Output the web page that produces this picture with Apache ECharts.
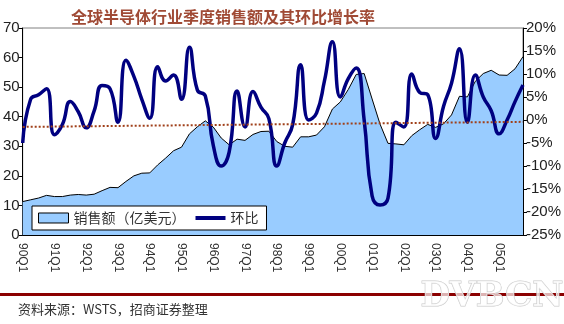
<!DOCTYPE html>
<html>
<head>
<meta charset="utf-8">
<script src="https://cdn.jsdelivr.net/npm/echarts@6/dist/echarts.min.js"></script>
<style>
  html, body { margin: 0; padding: 0; background: #fff; }
  #chart { width: 564px; height: 324px; }
</style>
</head>
<body>
<div id="chart"></div>
<script>
// Quarter labels, 1990 Q1 through 2005 Q4
const quarters = [
  '90Q1','90Q2','90Q3','90Q4','91Q1','91Q2','91Q3','91Q4',
  '92Q1','92Q2','92Q3','92Q4','93Q1','93Q2','93Q3','93Q4',
  '94Q1','94Q2','94Q3','94Q4','95Q1','95Q2','95Q3','95Q4',
  '96Q1','96Q2','96Q3','96Q4','97Q1','97Q2','97Q3','97Q4',
  '98Q1','98Q2','98Q3','98Q4','99Q1','99Q2','99Q3','99Q4',
  '00Q1','00Q2','00Q3','00Q4','01Q1','01Q2','01Q3','01Q4',
  '02Q1','02Q2','02Q3','02Q4','03Q1','03Q2','03Q3','03Q4',
  '04Q1','04Q2','04Q3','04Q4','05Q1','05Q2','05Q3','05Q4'
];

// Quarterly sales (left axis)
const sales = [
  11.3, 11.9, 12.5, 13.4, 13.0, 13.0, 13.5, 13.7,
  13.5, 13.8, 15.0, 16.1, 16.0, 18.1, 20.0, 20.9,
  21.0, 23.7, 26.0, 28.5, 29.7, 34.2, 36.6, 38.6,
  36.5, 32.8, 30.5, 32.4, 32.0, 34.0, 35.0, 35.1,
  31.6, 30.0, 29.7, 33.2, 33.2, 33.8, 36.6, 42.6,
  45.0, 49.2, 54.3, 54.6, 46.0, 37.5, 31.0, 30.8,
  30.5, 33.6, 35.6, 37.4, 36.4, 37.6, 40.6, 46.9,
  46.7, 52.0, 54.6, 55.7, 54.1, 54.0, 56.2, 60.3
];

// Quarter-on-quarter growth, % (right axis)
const qoq = [
  -5.0, 4.5, 5.5, 6.8, -3.2, -1.0, 4.0, 1.8,
  -1.7, 2.0, 7.5, 6.8, -0.5, 13.0, 9.5, 4.5,
  0.4, 11.6, 8.5, 9.8, 4.5, 15.8, 6.5, 5.2,
  -5.5, -10.0, -7.0, 6.3, -1.5, 6.2, 2.8, 0.3,
  -10.0, -5.0, -1.0, 12.0, 0.0, 1.5, 8.5, 17.0,
  5.0, 9.0, 11.3, 0.0, -16.5, -18.5, -17.0, -0.5,
  -1.5, 10.0, 6.0, 5.5, -4.0, 3.0, 8.0, 15.5,
  -0.5, 9.8, 5.0, 2.0, -3.0, 0.0, 4.0, 7.6
];

// Linear trend of the growth rate: value at the first and last quarter
const trendEnds = [-1.5, -0.4];

const leftTicks = { min: 0, max: 70, interval: 10 };
const rightTicks = { min: -25, max: 20, interval: 5 };

const salesName = '销售额（亿美元）';
const qoqName = '环比';

const chart = echarts.init(document.getElementById('chart'), null, { renderer: 'canvas' });

const axisFont = { fontFamily: 'Liberation Sans, Arial, sans-serif', fontSize: 15, color: '#222' };

chart.setOption({
  animation: false,
  backgroundColor: '#ffffff',
  title: {
    text: '全球半导体行业季度销售额及其环比增长率',
    left: 66,
    top: 4,
    textStyle: {
      fontFamily: 'Noto Sans CJK SC, sans-serif',
      fontSize: 16,
      fontWeight: 'bold',
      color: '#A04A35'
    }
  },
  grid: {
    left: 20, right: 39, top: 28, bottom: 89,
    show: true,
    borderColor: '#808080',
    borderWidth: 1,
    backgroundColor: 'transparent'
  },
  legend: {
    left: 32,
    top: 206,
    orient: 'horizontal',
    backgroundColor: '#ffffff',
    borderColor: '#000000',
    borderWidth: 1,
    borderRadius: 0,
    padding: [5, 8, 5, 6],
    itemGap: 10,
    itemWidth: 30,
    itemHeight: 10,
    textStyle: { fontFamily: 'Noto Sans CJK SC, sans-serif', fontSize: 14, color: '#333' },
    data: [
      { name: salesName, icon: 'rect', itemStyle: { color: '#99CCFF', borderColor: '#000', borderWidth: 1 } },
      { name: qoqName, icon: 'path://M0,0 L30,0 L30,4 L0,4 Z', itemStyle: { color: '#000080' } }
    ]
  },
  xAxis: {
    type: 'category',
    data: quarters,
    boundaryGap: false,
    axisLine: { lineStyle: { color: '#000', width: 1 } },
    axisTick: { show: true, inside: true, length: 4, interval: 0, lineStyle: { color: '#000' } },
    axisLabel: {
      interval: 3,
      rotate: -90,
      margin: 8,
      fontFamily: 'Liberation Sans, Arial, sans-serif',
      fontSize: 12,
      color: '#333'
    },
    splitLine: { show: false }
  },
  yAxis: [
    {
      type: 'value',
      min: leftTicks.min, max: leftTicks.max, interval: leftTicks.interval,
      position: 'left',
      axisLine: { show: true, lineStyle: { color: '#000' } },
      axisTick: { show: true, inside: false, length: 4, lineStyle: { color: '#000' } },
      axisLabel: Object.assign({ margin: 3 }, axisFont),
      splitLine: { show: false }
    },
    {
      type: 'value',
      min: rightTicks.min, max: rightTicks.max, interval: rightTicks.interval,
      position: 'right',
      axisLine: { show: true, lineStyle: { color: '#000' } },
      axisTick: { show: true, inside: false, length: 4, lineStyle: { color: '#000' } },
      axisLabel: Object.assign({ margin: 3, formatter: '{value}%' }, axisFont),
      splitLine: { show: false }
    }
  ],
  series: [
    {
      name: salesName,
      type: 'line',
      yAxisIndex: 0,
      data: sales,
      symbol: 'none',
      color: '#99CCFF',
      lineStyle: { color: '#000000', width: 1 },
      areaStyle: { color: '#99CCFF', opacity: 1 },
      z: 1
    },
    {
      name: qoqName,
      type: 'line',
      yAxisIndex: 1,
      data: qoq,
      symbol: 'none',
      smooth: 0.5,
      color: '#000080',
      lineStyle: { color: '#000080', width: 3.5 },
      z: 3,
      markLine: {
        silent: true,
        symbol: ['none', 'none'],
        label: { show: false },
        lineStyle: { type: [2, 2], color: '#A0401A', width: 2 },
        data: [[
          { coord: [quarters[0], trendEnds[0]] },
          { coord: [quarters[quarters.length - 1], trendEnds[1]] }
        ]]
      }
    }
  ],
  graphic: [
    {
      type: 'rect',
      left: 0, top: 293,
      shape: { width: 564, height: 3 },
      style: { fill: '#8B0000' },
      silent: true
    },
    {
      type: 'text',
      left: 18, top: 303,
      style: {
        text: '资料来源：WSTS，招商证券整理',
        font: '13px "Noto Sans CJK SC", sans-serif',
        fill: '#333'
      }
    },
    {
      type: 'text',
      left: 420, top: 280,
      style: {
        text: 'DVBCN',
        font: 'bold 34px "DejaVu Serif", serif',
        fill: 'rgba(255,255,255,0.7)',
        stroke: '#c8c8c8',
        lineWidth: 1
      }
    }
  ]
});
</script>
</body>
</html>
